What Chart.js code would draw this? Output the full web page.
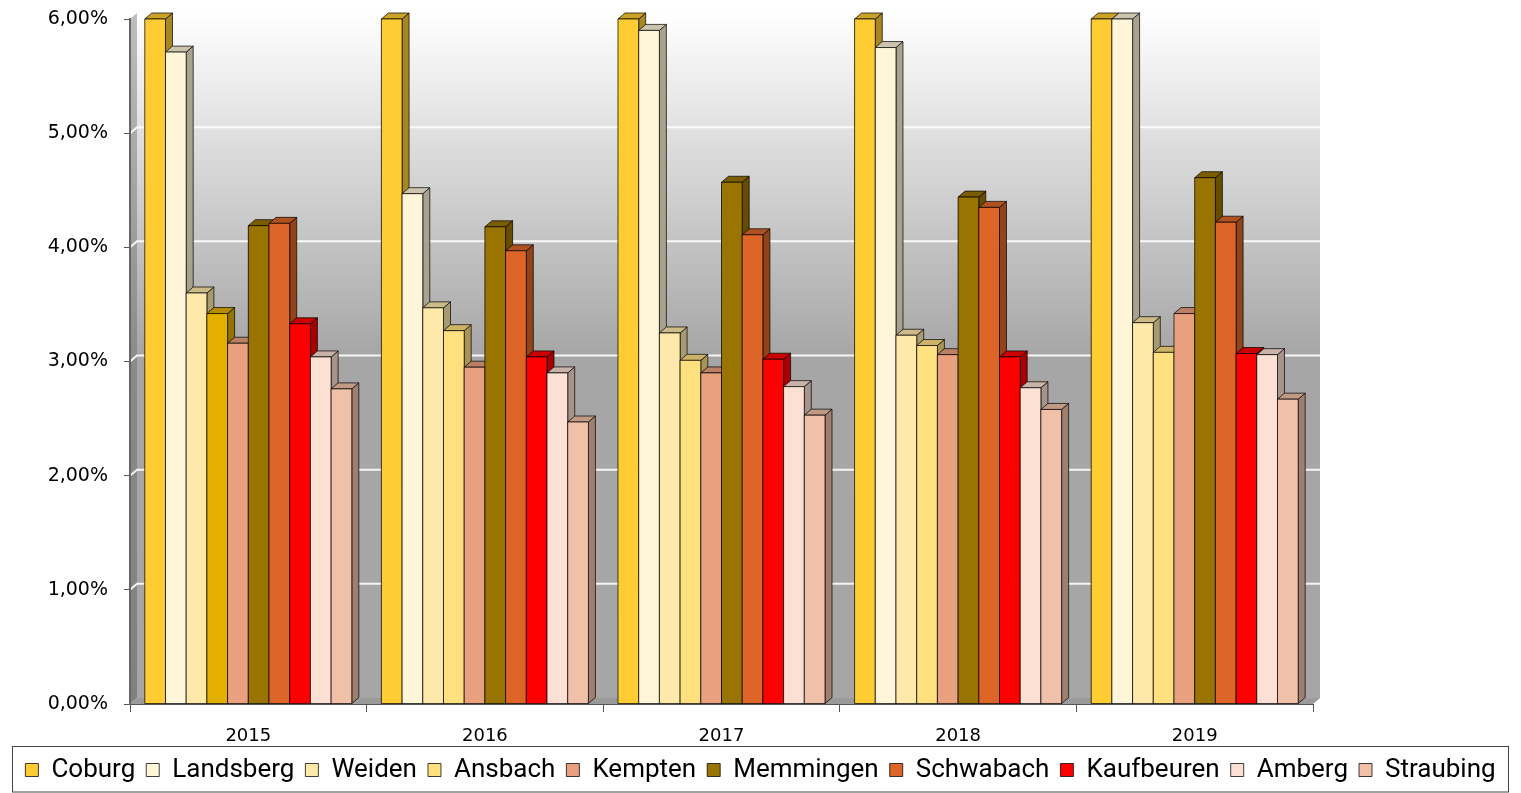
<!DOCTYPE html>
<html>
<head>
<meta charset="utf-8">
<script src="https://cdn.jsdelivr.net/npm/chart.js@4.4.0/dist/chart.umd.min.js"></script>
<style>
  html, body { margin: 0; padding: 0; background: #fff; }
</style>
</head>
<body>
<canvas id="chart" width="1521" height="793"></canvas>
<script>
const years = ["2015", "2016", "2017", "2018", "2019"];
const coburg = [6.0, 6.0, 6.0, 6.0, 6.0];
const landsberg = [5.71, 4.47, 5.90, 5.75, 6.0];
const weiden = [3.60, 3.47, 3.25, 3.23, 3.34];
const ansbach = [3.42, 3.27, 3.01, 3.14, 3.08];
const kempten = [3.16, 2.95, 2.90, 3.06, 3.42];
const memmingen = [4.19, 4.18, 4.57, 4.44, 4.61];
const schwabach = [4.21, 3.97, 4.11, 4.35, 4.22];
const kaufbeuren = [3.33, 3.04, 3.02, 3.04, 3.07];
const amberg = [3.04, 2.90, 2.78, 2.77, 3.06];
const straubing = [2.76, 2.47, 2.53, 2.58, 2.67];
const yTicks = [0, 1, 2, 3, 4, 5, 6];

const DX = 7, DY = 6; // 3d depth offset
const ANSBACH = "#FFE07F", ANSBACH_2015 = "#E3B000";

function shade(hex, f) {
  const n = parseInt(hex.slice(1), 16);
  const r = Math.round(((n >> 16) & 255) * f);
  const g = Math.round(((n >> 8) & 255) * f);
  const b = Math.round((n & 255) * f);
  return `rgb(${r},${g},${b})`;
}

function poly(ctx, pts, fill) {
  ctx.beginPath();
  ctx.moveTo(pts[0][0], pts[0][1]);
  for (let i = 1; i < pts.length; i++) ctx.lineTo(pts[i][0], pts[i][1]);
  ctx.closePath();
  ctx.fillStyle = fill;
  ctx.fill();
  ctx.stroke();
}

// back wall, side wall and floor behind the bars
const walls = {
  id: "walls",
  beforeDraw(chart) {
    const { ctx, chartArea: a, scales } = chart;
    const y = scales.y;
    ctx.save();
    const grad = ctx.createLinearGradient(0, a.top - DY, 0, a.bottom - DY);
    grad.addColorStop(0, "#ffffff");
    grad.addColorStop(0.5, "#a6a6a6");
    grad.addColorStop(1, "#a6a6a6");
    ctx.fillStyle = grad;
    ctx.fillRect(a.left + DX, a.top - DY, a.right - a.left, a.bottom - a.top);

    // left side wall
    const sg = ctx.createLinearGradient(0, a.top, 0, a.bottom);
    sg.addColorStop(0, "#bdbdbd");
    sg.addColorStop(0.5, "#8a8a8a");
    sg.addColorStop(1, "#808080");
    ctx.fillStyle = sg;
    ctx.beginPath();
    ctx.moveTo(a.left, a.top);
    ctx.lineTo(a.left + DX, a.top - DY);
    ctx.lineTo(a.left + DX, a.bottom - DY);
    ctx.lineTo(a.left, a.bottom);
    ctx.closePath();
    ctx.fill();

    // floor
    ctx.fillStyle = "#9a9a9a";
    ctx.beginPath();
    ctx.moveTo(a.left, a.bottom);
    ctx.lineTo(a.left + DX, a.bottom - DY);
    ctx.lineTo(a.right + DX, a.bottom - DY);
    ctx.lineTo(a.right, a.bottom);
    ctx.closePath();
    ctx.fill();

    // grid lines on the walls
    ctx.strokeStyle = "rgba(255,255,255,0.9)";
    ctx.lineWidth = 2;
    yTicks.slice(1, -1).forEach(v => {
      const py = y.getPixelForValue(v);
      ctx.beginPath();
      ctx.moveTo(a.left, py);
      ctx.lineTo(a.left + DX, py - DY);
      ctx.lineTo(a.right + DX, py - DY);
      ctx.stroke();
    });
    ctx.restore();
  },
  afterDraw(chart) {
    const lg = chart.legend;
    const { ctx } = chart;
    ctx.save();
    ctx.strokeStyle = "#444";
    ctx.lineWidth = 1;
    ctx.strokeRect(12.5, Math.round(lg.top) + 0.5, chart.width - 25, chart.height - Math.round(lg.top) - 1.5);
    ctx.restore();
  }
};

// redraw every bar as a little box, left to right
const bars3d = {
  id: "bars3d",
  afterDatasetsDraw(chart) {
    const { ctx } = chart;
    const n = chart.data.labels.length;
    ctx.save();
    ctx.lineWidth = 1;
    ctx.strokeStyle = "rgba(0,0,0,0.7)";
    for (let j = 0; j < n; j++) {
      chart.data.datasets.forEach((ds, i) => {
        const bar = chart.getDatasetMeta(i).data[j];
        const col = bar.options.backgroundColor;
        const l = bar.x - bar.width / 2, r = bar.x + bar.width / 2;
        const t = bar.y, b = bar.base;
        poly(ctx, [[r, t], [r + DX, t - DY], [r + DX, b - DY], [r, b]], shade(col, 0.66));
        poly(ctx, [[l, t], [l + DX, t - DY], [r + DX, t - DY], [r, t]], shade(col, 0.8));
        poly(ctx, [[l, t], [r, t], [r, b], [l, b]], col);
      });
    }
    ctx.restore();
  }
};

function series(label, data, color) {
  return {
    label, data,
    backgroundColor: color,
    borderColor: "rgba(0,0,0,0.75)",
    borderWidth: 1,
    categoryPercentage: 0.875,
    barPercentage: 1.0
  };
}

Chart.defaults.font.family = "DejaVu Sans";

new Chart(document.getElementById("chart").getContext("2d"), {
  type: "bar",
  data: {
    labels: years,
    datasets: [
      series("Coburg", coburg, "#FFCC33"),
      series("Landsberg", landsberg, "#FFF5D8"),
      series("Weiden", weiden, "#FFE9AA"),
      // first year of Ansbach is drawn in a darker gold
      series("Ansbach", ansbach, ansbach.map((v, i) => i === 0 ? ANSBACH_2015 : ANSBACH)),
      series("Kempten", kempten, "#E9A07E"),
      series("Memmingen", memmingen, "#9A7400"),
      series("Schwabach", schwabach, "#DD6528"),
      series("Kaufbeuren", kaufbeuren, "#FF0000"),
      series("Amberg", amberg, "#FBE0D3"),
      series("Straubing", straubing, "#F1C0A8")
    ]
  },
  options: {
    responsive: false,
    animation: false,
    layout: { padding: { top: 19, left: 0, right: 0, bottom: 0 } },
    plugins: {
      tooltip: { enabled: false },
      legend: {
        position: "bottom",
        labels: {
          color: "#000",
          font: { family: "Roboto", size: 26 },
          boxWidth: 13,
          boxHeight: 13,
          padding: 11,
          generateLabels: chart =>
            Chart.defaults.plugins.legend.labels.generateLabels(chart).map(it =>
              it.text === "Ansbach" ? { ...it, fillStyle: ANSBACH } : it)
        }
      }
    },
    scales: {
      x: {
        grid: { drawOnChartArea: false, drawTicks: true, tickLength: 8, color: "#555" },
        border: { color: "#555", width: 1 },
        ticks: { color: "#000", font: { size: 18 }, padding: 14 },
        afterFit: s => { s.height = 42; }
      },
      y: {
        min: 0,
        max: 6,
        ticks: {
          stepSize: 1,
          color: "#000",
          font: { size: 19 },
          padding: 16,
          callback: v => v.toFixed(2).replace(".", ",") + "%"
        },
        grid: { drawOnChartArea: false, tickLength: 6, color: "#555" },
        border: { color: "#666", width: 2 },
        afterFit: s => { s.width = 130; s.paddingTop = 0; s.paddingBottom = 0; }
      },
      yRight: {
        position: "right",
        grid: { display: false },
        ticks: { display: false },
        border: { display: false },
        afterFit: s => { s.width = 208; s.paddingTop = 0; s.paddingBottom = 0; }
      }
    }
  },
  plugins: [walls, bars3d]
});
</script>
</body>
</html>
